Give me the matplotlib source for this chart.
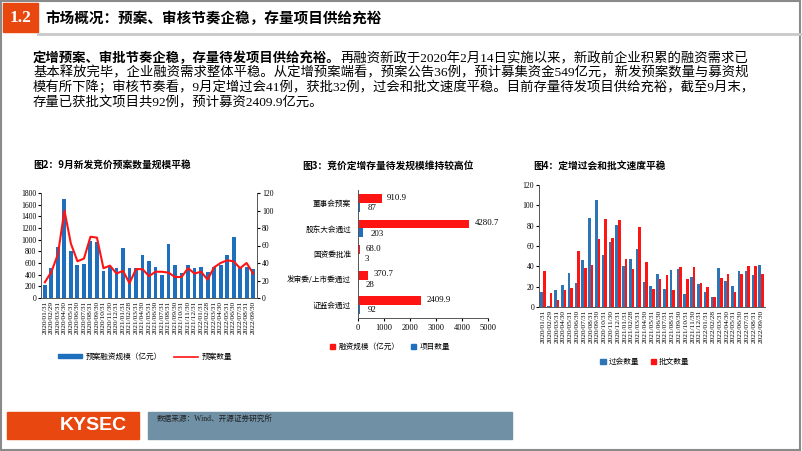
import numpy as np
import pandas as pd
import matplotlib
matplotlib.use("Agg")
import matplotlib.pyplot as plt
from matplotlib.patches import Rectangle
from matplotlib.lines import Line2D

W, H = 802, 451
plt.rcParams["font.family"] = ["Liberation Serif", "Noto Sans CJK SC"]
CJK = ["Noto Sans CJK SC", "DejaVu Sans"]
MIX = ["Liberation Serif", "Noto Sans CJK SC"]

months = list(pd.date_range("2020-01-31", periods=33, freq="ME").strftime("%Y/%m/%d"))

# 图2：预案融资规模（亿元）与预案数量
plan_amount = [220, 520, 870, 1690, 810, 570, 580, 970, 960, 460, 530,
               510, 860, 510, 510, 740, 630, 530, 400, 920, 570, 430,
               560, 520, 540, 450, 540, 560, 730, 1050, 510, 540, 500]
plan_count = [18, 30, 50, 100, 62, 42, 45, 70, 69, 34, 37,
              28, 31, 17, 33, 33, 25, 30, 30, 29, 24, 24,
              34, 28, 30, 21, 35, 40, 43, 42, 34, 40, 28]

# 图3：存量待发
stages = ["董事会预案", "股东大会通过", "国资委批准", "发审委/上市委通过", "证监会通过"]
stage_amount = [910.9, 4280.7, 68.0, 370.7, 2409.9]
stage_count = [87, 203, 3, 28, 92]

# 图4：过会数量与批文数量
passed = [15, 1, 17, 22, 33, 24, 46, 88, 105, 51, 64, 81, 40, 47, 57, 25, 21,
          32, 18, 36, 37, 13, 30, 23, 15, 10, 38, 26, 21, 35, 35, 31, 41]
approved = [35, 14, 7, 17, 19, 55, 38, 41, 67, 87, 68, 86, 47, 37, 79, 44, 18,
            28, 31, 17, 39, 28, 39, 24, 20, 10, 29, 32, 15, 32, 40, 40, 32]

BLUE = "#1f6fbf"
RED = "#ff1414"

fig = plt.figure(figsize=(W / 100, H / 100), dpi=100)


def box(x0, y0, x1, y1):
    return [x0 / W, 1 - y1 / H, (x1 - x0) / W, (y1 - y0) / H]


def fx(x):
    return x / W


def fy(y):
    return 1 - y / H


# ── 页眉 / 边框 ──────────────────────────────────────────────
fig.patches.append(Rectangle((0.001, 0.002), 0.997, 0.996, fill=False, ec="#8a8a8a",
                             lw=1.5, transform=fig.transFigure))
fig.patches.append(Rectangle((fx(3), fy(32)), fx(35), 29 / H, color="#e8470f",
                             transform=fig.transFigure))
fig.lines.append(Line2D([fx(38), 1], [fy(33.5), fy(33.5)], color="#c9c9c9", lw=2,
                        transform=fig.transFigure))
fig.text(fx(20.5), fy(18), "1.2", color="white", fontsize=12.5, fontweight="bold",
         ha="center", va="center", family=MIX)
fig.text(fx(45), fy(18), "市场概况：预案、审核节奏企稳，存量项目供给充裕", fontsize=10.5,
         fontweight="bold", va="center", family=CJK)

# ── 正文 ─────────────────────────────────────────────────────
r = fig.canvas.get_renderer()
bold_part = "定增预案、审批节奏企稳，存量待发项目供给充裕。"
t = fig.text(fx(33), fy(58.5), bold_part, fontsize=9.6, fontweight="bold", va="center", family=CJK)
bb = t.get_window_extent(r)
fig.text(bb.x1 / fig.bbox.width, fy(58.5), "再融资新政于2020年2月14日实施以来，新政前企业积累的融资需求已",
         fontsize=9.6, va="center", family=MIX)
body = ["基本释放完毕，企业融资需求整体平稳。从定增预案端看，预案公告36例，预计募集资金549亿元，新发预案数量与募资规",
        "模有所下降；审核节奏看，9月定增过会41例，获批32例，过会和批文速度平稳。目前存量待发项目供给充裕，截至9月末，",
        "存量已获批文项目共92例，预计募资2409.9亿元。"]
for i, line in enumerate(body):
    fig.text(fx(33), fy(73 + 14.5 * i), line, fontsize=9.6, va="center", family=MIX)

# ── 图2 ─────────────────────────────────────────────────────
fig.text(fx(33), fy(165), "图2：9月新发竞价预案数量规模平稳", fontsize=7, fontweight="bold",
         va="center", family=CJK)
x = np.arange(len(months))
ax2 = fig.add_axes(box(41, 193, 257, 298))
ax2.bar(x, plan_amount, width=0.6, color=BLUE)
ax2.set_ylim(0, 1800)
ax2.set_yticks(range(0, 1801, 200))
ax2.set_xlim(-0.6, len(months) - 0.4)
ax2.set_xticks(x)
ax2.set_xticklabels(months, rotation=90, fontsize=5.3)
ax2.tick_params(axis="y", labelsize=5.5, length=2, pad=1.5)
ax2.tick_params(axis="x", length=0, pad=2)
ax2.spines["top"].set_visible(False)
ax2r = ax2.twinx()
ax2r.plot(x, plan_count, color=RED, lw=1.5)
ax2r.set_ylim(0, 120)
ax2r.set_yticks(range(0, 121, 20))
ax2r.tick_params(axis="y", labelsize=5.5, length=2, pad=1.5)
ax2r.spines["top"].set_visible(False)
for a in (ax2, ax2r):
    for s in a.spines.values():
        s.set_color("#555555")
        s.set_linewidth(0.6)
fig.legend([Rectangle((0, 0), 1, 1, color=BLUE), Line2D([], [], color=RED, lw=1.2)],
           ["预案融资规模（亿元）", "预案数量"], loc="center",
           bbox_to_anchor=(fx(145), fy(357)), ncol=2, frameon=False,
           prop={"family": CJK, "size": 5.5}, handlelength=3.2, handleheight=0.5,
           columnspacing=1.5, handletextpad=0.5)

# ── 图3 ─────────────────────────────────────────────────────
fig.text(fx(388), fy(166), "图3：竞价定增存量待发规模维持较高位", fontsize=7, fontweight="bold",
         ha="center", va="center", family=CJK)
ax3 = fig.add_axes(box(358, 190, 488, 318))
yy = np.arange(len(stages))
ax3.barh(yy - 0.17, stage_amount, height=0.34, color=RED)
ax3.barh(yy + 0.17, stage_count, height=0.34, color=BLUE)
for i in range(len(stages)):
    ax3.annotate(f"{stage_amount[i]:.1f}", xy=(stage_amount[i], yy[i] - 0.2), xytext=(4, 0),
                 textcoords="offset points", va="center", fontsize=6.3)
    ax3.annotate(f"{stage_count[i]}", xy=(stage_count[i], yy[i] + 0.2), xytext=(5, 0),
                 textcoords="offset points", va="center", fontsize=6.3)
ax3.set_xlim(0, 5000)
ax3.set_xticks(range(0, 5001, 1000))
ax3.set_ylim(len(stages) - 0.5, -0.5)
ax3.set_yticks(yy)
ax3.set_yticklabels(stages, family=CJK, fontsize=5.5)
ax3.tick_params(axis="y", length=0, pad=5)
ax3.tick_params(axis="x", labelsize=6, length=2, pad=2)
for s in ("top", "right"):
    ax3.spines[s].set_visible(False)
for s in ("left", "bottom"):
    ax3.spines[s].set_color("#555555")
    ax3.spines[s].set_linewidth(0.7)
fig.legend([Rectangle((0, 0), 1, 1, color=RED), Rectangle((0, 0), 1, 1, color=BLUE)],
           ["融资规模（亿元）", "项目数量"], loc="center",
           bbox_to_anchor=(fx(390), fy(347)), ncol=2, frameon=False,
           prop={"family": CJK, "size": 5.5}, handlelength=0.7, handleheight=0.7,
           columnspacing=1.5, handletextpad=0.4)

# ── 图4 ─────────────────────────────────────────────────────
fig.text(fx(533), fy(166), "图4：定增过会和批文速度平稳", fontsize=7, fontweight="bold",
         va="center", family=CJK)
ax4 = fig.add_axes(box(539, 185, 765, 307))
ax4.bar(x - 0.19, passed, width=0.38, color="#2e75b6")
ax4.bar(x + 0.19, approved, width=0.38, color=RED)
ax4.set_ylim(0, 120)
ax4.set_yticks(range(0, 121, 20))
ax4.set_xlim(-0.6, len(months) - 0.4)
ax4.set_xticks(x)
ax4.set_xticklabels(months, rotation=90, fontsize=5.3)
ax4.tick_params(axis="y", labelsize=5.5, length=2, pad=1.5)
ax4.tick_params(axis="x", length=0, pad=2)
for s in ("top", "right"):
    ax4.spines[s].set_visible(False)
for s in ("left", "bottom"):
    ax4.spines[s].set_color("#555555")
    ax4.spines[s].set_linewidth(0.7)
fig.legend([Rectangle((0, 0), 1, 1, color="#2e75b6"), Rectangle((0, 0), 1, 1, color=RED)],
           ["过会数量", "批文数量"], loc="center",
           bbox_to_anchor=(fx(645), fy(362)), ncol=2, frameon=False,
           prop={"family": CJK, "size": 5.5}, handlelength=0.7, handleheight=0.7,
           columnspacing=1.5, handletextpad=0.4)

# ── 页脚 ─────────────────────────────────────────────────────
fig.patches.append(Rectangle((fx(7), fy(439)), 132 / W, 27 / H, color="#e8470f",
                             transform=fig.transFigure))
fig.text(fx(93), fy(426), "KYSEC", color="white", fontsize=14, fontweight="bold",
         ha="center", va="center", family=["Liberation Sans", "DejaVu Sans"])
fig.patches.append(Rectangle((fx(148), fy(439)), 364 / W, 27 / H, color="#6f90a5",
                             transform=fig.transFigure))
fig.text(fx(157), fy(418.5), "数据来源：Wind、开源证券研究所", fontsize=5.5, va="center",
         color="#222222", family=MIX)

fig.savefig("out.png", dpi=100)
